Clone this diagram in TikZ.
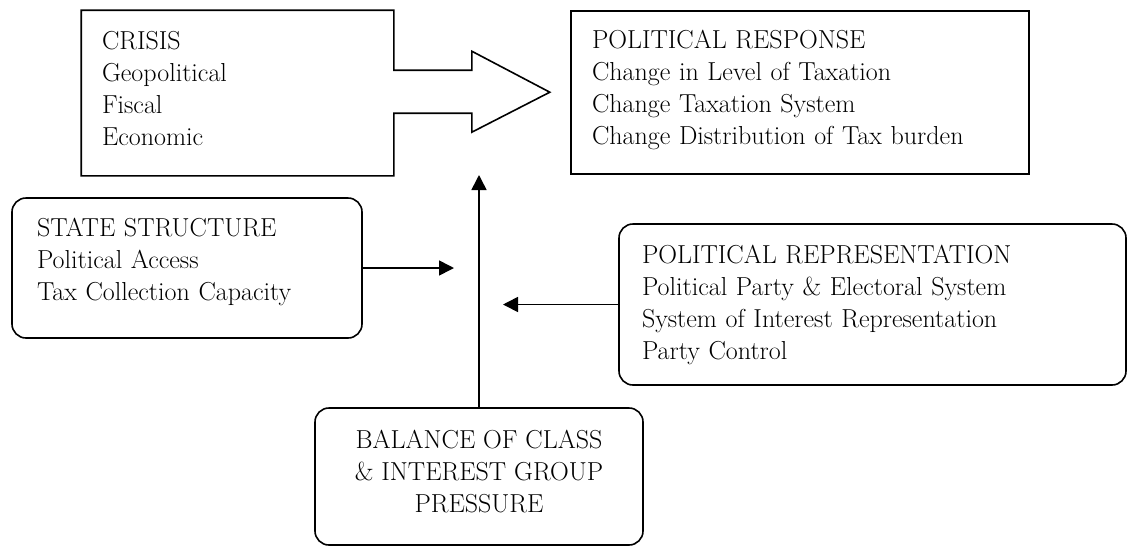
\documentclass[tikz,border=0pt]{standalone}
\usepackage{fontspec}
\usetikzlibrary{arrows.meta}

% invisible depth below the last line, lifts the text a bit
\newcommand{\botpad}[1]{\rule[-#1]{0pt}{0pt}}

\begin{document}
\begin{tikzpicture}
	[
		x = 1pt, y = -1pt,
		every node/.append style = {font = \fontsize{26}{32}\selectfont, line width = 1.6pt},
		sharpbox/.style = {rectangle, align = left, inner ysep = 0pt},
		roundbox/.style = {rectangle, draw, rounded corners = 14pt, align = left, inner ysep = 0pt},
		link/.style = {line width = 1.6pt, -{Triangle[width = 15pt, length = 15pt]}}
	]

	\useasboundingbox (0,0) rectangle (1127,547);

	\node[sharpbox, text width = 271pt, inner xsep = 20pt, minimum height = 164pt] (crisis) at (237.5,93)
		{CRISIS\\Geopolitical\\Fiscal\\Economic\botpad{10pt}};
	\node[sharpbox, draw, text width = 416pt, inner xsep = 21pt, minimum height = 163pt] (response) at (800,92.5)
		{POLITICAL RESPONSE\\Change in Level of Taxation\\Change Taxation System\\Change Distribution of Tax burden\botpad{10pt}};
	\node[roundbox, text width = 300pt, inner xsep = 25pt, minimum height = 140pt] (state) at (187,268)
		{STATE STRUCTURE\\Political Access\\Tax Collection Capacity\botpad{17pt}};
	\node[roundbox, text width = 461pt, inner xsep = 23pt, minimum height = 161pt] (repr) at (872.5,304.5)
		{POLITICAL REPRESENTATION\\Political Party \& Electoral System\\System of Interest Representation\\Party Control};
	\node[roundbox, align = center, minimum width = 328pt, minimum height = 137pt] (balance) at (479,476.5)
		{BALANCE OF CLASS\\\& INTEREST GROUP\\PRESSURE\botpad{10pt}};

	% crisis box with its block arrow
	\draw[line width = 1.6pt, line join = miter]
		(crisis.north west) -- (crisis.north east) -- ++(0,60) -- ++(78,0) -- ++(0,-19)
		-- ++(78,41) -- ++(-78,40) -- ++(0,-19) -- ++(-78,0)
		-- (crisis.south east) -- (crisis.south west) -- cycle;

	\coordinate (hubtop) at (479,175);
	\coordinate (hubleft) at (454,268);
	\coordinate (hubright) at (503,304.5);

	\draw[link] (balance.north) -- (hubtop);
	\draw[link] (state.east) -- (hubleft);
	\draw[link] (repr.west) -- (hubright);
\end{tikzpicture}
\end{document}
